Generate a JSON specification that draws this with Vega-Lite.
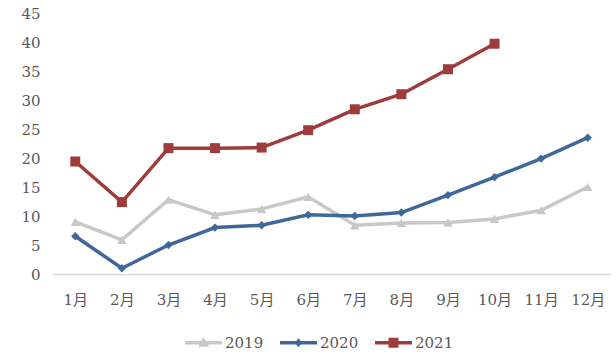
{
  "$schema": "https://vega.github.io/schema/vega-lite/v6.json",
  "width": 559,
  "height": 261,
  "autosize": "none",
  "padding": {"left": 52, "top": 13, "right": 5, "bottom": 82},
  "background": "white",
  "config": {
    "view": {"stroke": null},
    "font": "DejaVu Serif, Noto Sans CJK SC"
  },
  "data": {
    "values": [
      {"m": "1月", "y": "2019", "v": 9.0},
      {"m": "2月", "y": "2019", "v": 5.9},
      {"m": "3月", "y": "2019", "v": 12.8},
      {"m": "4月", "y": "2019", "v": 10.2},
      {"m": "5月", "y": "2019", "v": 11.2},
      {"m": "6月", "y": "2019", "v": 13.3},
      {"m": "7月", "y": "2019", "v": 8.4},
      {"m": "8月", "y": "2019", "v": 8.8},
      {"m": "9月", "y": "2019", "v": 8.9},
      {"m": "10月", "y": "2019", "v": 9.5},
      {"m": "11月", "y": "2019", "v": 11.0},
      {"m": "12月", "y": "2019", "v": 15.0},
      {"m": "1月", "y": "2020", "v": 6.5},
      {"m": "2月", "y": "2020", "v": 1.0},
      {"m": "3月", "y": "2020", "v": 5.0},
      {"m": "4月", "y": "2020", "v": 8.0},
      {"m": "5月", "y": "2020", "v": 8.4},
      {"m": "6月", "y": "2020", "v": 10.2},
      {"m": "7月", "y": "2020", "v": 10.0},
      {"m": "8月", "y": "2020", "v": 10.6},
      {"m": "9月", "y": "2020", "v": 13.6},
      {"m": "10月", "y": "2020", "v": 16.7},
      {"m": "11月", "y": "2020", "v": 19.9},
      {"m": "12月", "y": "2020", "v": 23.5},
      {"m": "1月", "y": "2021", "v": 19.4},
      {"m": "2月", "y": "2021", "v": 12.4},
      {"m": "3月", "y": "2021", "v": 21.7},
      {"m": "4月", "y": "2021", "v": 21.7},
      {"m": "5月", "y": "2021", "v": 21.8},
      {"m": "6月", "y": "2021", "v": 24.8},
      {"m": "7月", "y": "2021", "v": 28.4},
      {"m": "8月", "y": "2021", "v": 31.0},
      {"m": "9月", "y": "2021", "v": 35.3},
      {"m": "10月", "y": "2021", "v": 39.7}
    ]
  },
  "encoding": {
    "x": {
      "field": "m", "type": "ordinal",
      "sort": ["1月","2月","3月","4月","5月","6月","7月","8月","9月","10月","11月","12月"],
      "scale": {"type": "point", "padding": 0.5},
      "axis": {"title": null, "labelAngle": 0, "ticks": false, "domainColor": "#d9d9d9", "domainWidth": 1.5, "labelPadding": 18, "labelFontSize": 15, "labelColor": "#595959", "grid": false}
    },
    "y": {
      "field": "v", "type": "quantitative",
      "scale": {"domain": [0, 45], "nice": false},
      "axis": {"title": null, "values": [0,5,10,15,20,25,30,35,40,45], "ticks": false, "domain": false, "grid": false, "labelPadding": 12, "labelFontSize": 15, "labelColor": "#595959"}
    }
  },
  "layer": [
    {
      "mark": {"type": "line", "strokeWidth": 3.5},
      "encoding": {
        "color": {
          "field": "y", "type": "nominal",
          "scale": {"domain": ["2019","2020","2021"], "range": ["#c8c8c8","#3f689a","#9e3b3b"]},
          "legend": {
            "title": null, "orient": "none", "direction": "horizontal", "legendX": 144, "legendY": 322,
            "labelFontSize": 15, "labelColor": "#595959", "columnPadding": 16, "symbolSize": 100, "labelOffset": 14,
            "encode": {
              "symbols": {
                "update": {
                  "shape": {"signal": "datum.value === '2019' ? 'M-3.7,-0.35H3.7V0.35H-3.7Z M0,-1.1L1.1,0.8H-1.1Z' : datum.value === '2020' ? 'M-3.7,-0.35H3.7V0.35H-3.7Z M0,-0.9L0.75,0L0,0.9L-0.75,0Z' : 'M-3.7,-0.35H3.7V0.35H-3.7Z M-1,-1H1V1H-1Z'"},
                  "fill": {"scale": "color", "field": "value"},
                  "fillOpacity": {"value": 1},
                  "strokeWidth": {"value": 0},
                  "size": {"value": 100}
                }
              }
            }
          }
        }
      }
    },
    {
      "transform": [{"filter": "datum.y === '2019'"}],
      "mark": {"type": "point", "filled": true, "opacity": 1, "shape": "triangle-up", "size": 90, "color": "#c8c8c8"}
    },
    {
      "transform": [{"filter": "datum.y === '2020'"}],
      "mark": {"type": "point", "filled": true, "opacity": 1, "shape": "diamond", "size": 70, "color": "#3f689a"}
    },
    {
      "transform": [{"filter": "datum.y === '2021'"}],
      "mark": {"type": "point", "filled": true, "opacity": 1, "shape": "square", "size": 100, "color": "#9e3b3b"}
    }
  ]
}
